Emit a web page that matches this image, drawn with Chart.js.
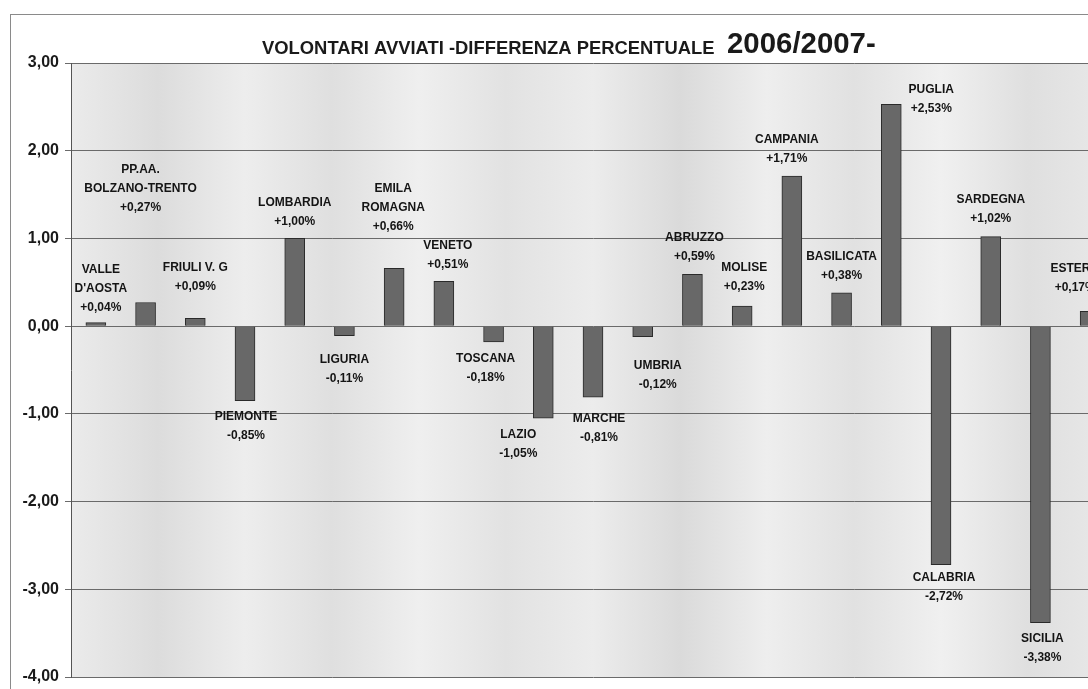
<!doctype html>
<html lang="it">
  <head>
    <meta charset="utf-8">
    <title>Volontari avviati - differenza percentuale 2006/2007</title>
    <style>
      * {
        margin: 0;
        padding: 0;
      }
      body {
        width: 1088px;
        height: 689px;
        overflow: hidden;
        background: white;
      }
      .chartBox {
        width: 1125px;
        height: 689px;
      }
    </style>
  </head>
  <body>
    <div class="chartBox">
      <canvas id="myChart"></canvas>
    </div>
    <script src="https://cdn.jsdelivr.net/npm/chart.js"></script>
    <script>
    // data
    const regions = [
      ['VALLE', "D'AOSTA"], ['PP.AA.', 'BOLZANO-TRENTO'], ['FRIULI V. G'], ['PIEMONTE'],
      ['LOMBARDIA'], ['LIGURIA'], ['EMILA', 'ROMAGNA'], ['VENETO'], ['TOSCANA'],
      ['LAZIO'], ['MARCHE'], ['UMBRIA'], ['ABRUZZO'], ['MOLISE'], ['CAMPANIA'],
      ['BASILICATA'], ['PUGLIA'], ['CALABRIA'], ['SARDEGNA'], ['SICILIA'], ['ESTERO']
    ];
    const diffPct = [0.04, 0.27, 0.09, -0.85, 1.00, -0.11, 0.66, 0.51, -0.18, -1.05, -0.81,
      -0.12, 0.59, 0.23, 1.71, 0.38, 2.53, -2.72, 1.02, -3.38, 0.17];
    const yTicks = [3, 2, 1, 0, -1, -2, -3, -4];

    // label nudges [dx, dy] in px, the labels were placed by hand in the original
    const labelNudge = [
      [5, 2], [-5, -78], [0, -15], [1, 0], [0, 0], [0, 8], [-1, -25], [4, 0], [-8, 1],
      [-25, 0], [6, 5], [15, 13], [2, -1], [2, -2], [-5, 0], [0, 0], [40, 21], [3, -3],
      [0, -1], [2, 0], [-15, -7]
    ];

    const fmt = v => v.toFixed(2).replace('.', ',');
    const pct = v => (v > 0 ? '+' : '') + fmt(v) + '%';

    const backdrop = {
      id: 'backdrop',
      beforeDraw(chart) {
        const { ctx, chartArea: a } = chart;
        ctx.save();
        ctx.fillStyle = '#ffffff';
        ctx.fillRect(0, 0, chart.width, chart.height);
        ctx.strokeStyle = '#8a8a8a';
        ctx.lineWidth = 1;
        ctx.strokeRect(10.5, 14.5, chart.width + 20, chart.height + 20);
        // scanned paper look
        const g = ctx.createLinearGradient(a.left, 0, a.right, 0);
        const stops = ['#ebebeb', '#dcdcdc', '#ededed', '#dfdfdf', '#efefef', '#e2e2e2',
          '#ececec', '#dadada', '#eeeeee', '#e1e1e1', '#f0f0f0', '#dfdfdf', '#e9e9e9'];
        stops.forEach((c, i) => g.addColorStop(i / (stops.length - 1), c));
        ctx.fillStyle = g;
        ctx.fillRect(a.left, a.top, a.right - a.left, a.bottom - a.top);
        ctx.restore();
      }
    };

    const barLabels = {
      id: 'barLabels',
      afterDatasetsDraw(chart) {
        const { ctx } = chart;
        const meta = chart.getDatasetMeta(0);
        ctx.save();
        ctx.font = 'bold 12px "Liberation Sans", Arial, sans-serif';
        ctx.fillStyle = '#141414';
        ctx.textAlign = 'center';
        ctx.textBaseline = 'middle';
        const lh = 19;
        meta.data.forEach((bar, i) => {
          const v = diffPct[i];
          const lines = regions[i].concat([pct(v)]);
          const [dx, dy] = labelNudge[i];
          let y0;
          if (v >= 0) {
            y0 = bar.y - 17 - (lines.length - 1) * lh + dy;
          } else {
            y0 = bar.y + 16 + dy;
          }
          lines.forEach((t, k) => ctx.fillText(t, bar.x + dx, y0 + k * lh));
        });
        ctx.restore();
      }
    };

    const titlePlugin = {
      id: 'titlePlugin',
      afterDraw(chart) {
        const { ctx } = chart;
        ctx.save();
        ctx.fillStyle = '#1a1a1a';
        ctx.textBaseline = 'alphabetic';
        ctx.textAlign = 'left';
        const t1 = 'VOLONTARI AVVIATI -DIFFERENZA PERCENTUALE';
        ctx.font = 'bold 14px "Liberation Sans", Arial, sans-serif';
        const s1 = 14 * 453 / ctx.measureText(t1).width;
        ctx.font = 'bold ' + s1.toFixed(1) + 'px "Liberation Sans", Arial, sans-serif';
        ctx.fillText(t1, 262, 54);
        const t2 = '2006/2007-';
        ctx.font = 'bold 18px "Liberation Sans", Arial, sans-serif';
        const s2 = 18 * 149 / ctx.measureText(t2).width;
        ctx.font = 'bold ' + s2.toFixed(1) + 'px "Liberation Sans", Arial, sans-serif';
        ctx.fillText(t2, 727, 53);
        ctx.restore();
      }
    };

    const data = {
      labels: regions,
      datasets: [{
        data: diffPct,
        backgroundColor: '#686868',
        borderColor: '#2a2a2a',
        borderWidth: 1,
        barThickness: 20
      }]
    };

    const config = {
      type: 'bar',
      data,
      plugins: [backdrop, barLabels, titlePlugin],
      options: {
        responsive: false,
        animation: false,
        layout: {
          padding: { top: 63, bottom: 12, left: 0, right: 10 }
        },
        plugins: {
          legend: { display: false },
          tooltip: { enabled: false },
          title: { display: false }
        },
        scales: {
          x: {
            display: false,
            grid: { display: false }
          },
          y: {
            min: -4,
            max: 3,
            afterFit(scale) {
              scale.width = 71;
              scale.paddingTop = 0;
              scale.paddingBottom = 0;
            },
            afterBuildTicks(scale) {
              scale.ticks = yTicks.map(v => ({ value: v }));
            },
            ticks: {
              color: '#1a1a1a',
              padding: 6,
              font: { family: '"Liberation Sans", Arial, sans-serif', size: 16, weight: 'bold' },
              callback: v => fmt(v)
            },
            grid: {
              color: '#6a6a6a',
              lineWidth: 1,
              tickLength: 6,
              drawTicks: true
            },
            border: { color: '#555', width: 1 }
          }
        }
      }
    };

    const canvas = document.getElementById('myChart');
    canvas.width = 1125;
    canvas.height = 689;
    const myChart = new Chart(canvas, config);
    </script>
  </body>
</html>
